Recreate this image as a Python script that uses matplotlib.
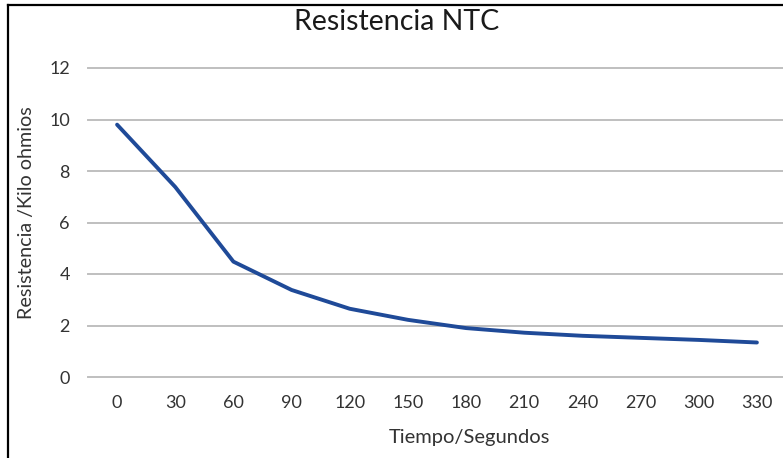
import matplotlib
matplotlib.use("Agg")
import matplotlib.pyplot as plt
from matplotlib.lines import Line2D

categories = ["0", "30", "60", "90", "120", "150", "180", "210", "240", "270", "300", "330"]
resistencia = [9.8, 7.38, 4.48, 3.38, 2.65, 2.22, 1.9, 1.72, 1.6, 1.52, 1.44, 1.34]
yticks = [0, 2, 4, 6, 8, 10, 12]

title = "Resistencia NTC"
xlabel = "Tiempo/Segundos"
ylabel = "Resistencia /Kilo ohmios"

plt.rcParams['font.family'] = ['Lato', 'DejaVu Sans']

W, H = 783, 458
fig = plt.figure(figsize=(W / 100, H / 100), dpi=100)
fig.patch.set_facecolor('white')

left, right = 88 / W, 786 / W
bottom, top = 1 - 377 / H, 1 - 68 / H
ax = fig.add_axes([left, bottom, right - left, top - bottom])

x = list(range(len(categories)))
ax.plot(x, resistencia, color='#1F4A98', lw=2.8, solid_capstyle='round', solid_joinstyle='round', zorder=3)

ax.set_xlim(-0.5, len(categories) - 0.5)
ax.set_ylim(0, 12)
ax.set_yticks(yticks)
ax.set_yticklabels([str(v) for v in yticks])
ax.set_xticks(x)
ax.set_xticklabels(categories)

for v in yticks:
    ax.axhline(v, color='#BFBFBF', lw=1.4, zorder=1, clip_on=False)

for s in ax.spines.values():
    s.set_visible(False)
ax.tick_params(axis='both', length=0, labelsize=13, labelcolor='#333333')
ax.tick_params(axis='y', pad=13)
ax.tick_params(axis='x', pad=13)

fig.text(397 / W, 1 - 22 / H, title, ha='center', va='center', fontsize=20.5, color='#1a1a1a')
fig.text(469 / W, 1 - 437 / H, xlabel, ha='center', va='center', fontsize=14.5, color='#333333')
fig.text(27 / W, 1 - 213 / H, ylabel, ha='center', va='center', rotation=90, fontsize=14.2, color='#333333')

# chart frame (left and top edges visible)
fig.add_artist(Line2D([8 / W, 8 / W], [0, 1 - 5 / H], transform=fig.transFigure, color='black', lw=1.6))
fig.add_artist(Line2D([8 / W, 1], [1 - 5 / H, 1 - 5 / H], transform=fig.transFigure, color='black', lw=1.6))

fig.savefig('out.png', dpi=100, facecolor='white')
